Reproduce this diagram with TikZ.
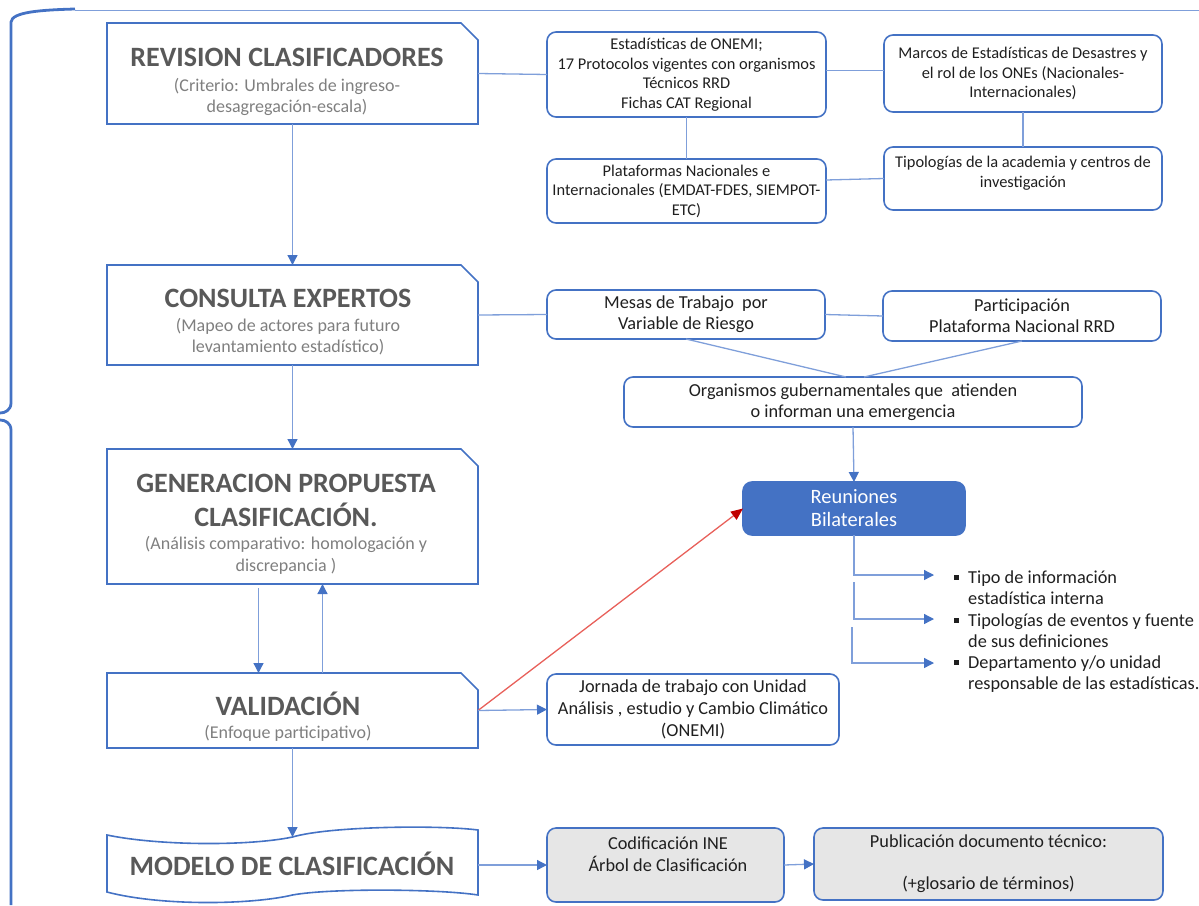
\documentclass[tikz,border=0pt]{standalone}
\usepackage{fontspec}
\setmainfont{Carlito}
\usetikzlibrary{arrows.meta,calc}
\definecolor{bl}{HTML}{4472C4}
\definecolor{lb}{HTML}{7F9FDA}
\definecolor{tg}{HTML}{595959}
\definecolor{sg}{HTML}{7F7F7F}
\definecolor{gf}{HTML}{E6E6E6}
\definecolor{rd}{HTML}{E8605A}
\definecolor{dr}{HTML}{C00000}
\newcommand\mytitlefont{\fontsize{28}{34}\selectfont\bfseries\color{tg}}
\newcommand\mysubfont{\fontsize{18}{21.5}\selectfont\color{sg}}
\newcommand\mysnip[1]{\draw[bl, line width=1.6pt] (#1.south west) -- (#1.north west) -- ([xshift=-17pt]#1.north east) -- ([yshift=-17pt]#1.north east) -- (#1.south east) -- cycle;}
\begin{document}
\begin{tikzpicture}[x=1pt,y=-1pt,
  stage/.style={minimum width=371pt, inner sep=0pt, outer sep=0pt},
  ttl/.style={align=center, inner sep=0pt, font=\mytitlefont},
  sub/.style={align=center, inner sep=0pt, font=\mysubfont},
  rbox/.style={draw=bl, line width=1.6pt, rounded corners=9pt, align=center, inner sep=0pt, outer sep=0pt, text=black!88, font=\fontsize{16.4}{19.5}\selectfont},
  rbig/.style={rbox, font=\fontsize{18.3}{21}\selectfont},
  conn/.style={draw=lb, line width=1.3pt},
  arr/.style={conn, -{Triangle[width=10pt,length=10pt,color=bl]}},
  redarr/.style={draw=rd, line width=1.3pt, -{Triangle[width=10pt,length=12pt,color=dr]}},
  bul/.style={anchor=west, align=left, inner sep=0pt, text=black!88, font=\fontsize{18.3}{21.5}\selectfont},
  brace/.style={draw=bl, line width=2.8pt}
]
\useasboundingbox (0,0) rectangle (1199,905);

% brace and top rule
\draw[brace] (75,9) .. controls (40,10) and (12,12) .. (11,22) -- (11,403) .. controls (11,410) and (5,413) .. (0,413);
\draw[brace] (0,420) .. controls (5,420) and (11,423) .. (11,430) -- (11,905);
\draw[draw=lb, line width=1pt] (75,10) -- (1199,10);

% left column stages
\node[stage, minimum height=101pt] (rev) at (292.5,73.5) {};
\mysnip{rev}
\node[ttl] at (287,57) {REVISION CLASIFICADORES};
\node[sub] at (287,97) {(Criterio: Umbrales de ingreso-\\desagregación-escala)};

\node[stage, minimum height=100pt] (con) at (292.5,315) {};
\mysnip{con}
\node[ttl] at (288,298) {CONSULTA EXPERTOS};
\node[sub] at (288,336.5) {(Mapeo de actores para futuro\\levantamiento estadístico)};

\node[stage, minimum height=135pt] (gen) at (292.5,516.5) {};
\mysnip{gen}
\node[ttl] at (286,500) {GENERACION PROPUESTA\\CLASIFICACIÓN.};
\node[sub] at (286,555.5) {(Análisis comparativo: homologación y\\discrepancia )};

\node[stage, minimum height=75pt] (val) at (292.5,710.5) {};
\mysnip{val}
\node[ttl] at (288,704) {VALIDACIÓN};
\node[sub] at (288,733) {(Enfoque participativo)};

\node[stage, minimum height=58pt] (mod) at (292.5,865) {};
\draw[bl, line width=1.6pt] (107,835) .. controls (160,846) and (250,846) .. (292.5,837) .. controls (330,826) and (440,825) .. (478,830) -- (478,895) .. controls (440,889) and (330,888) .. (292.5,895) .. controls (250,905) and (160,906) .. (107,892) -- cycle;
\node[ttl] at (292,864) {MODELO DE CLASIFICACIÓN};
\coordinate (modtop) at (292.5,837);

% right boxes, top group
\node[rbox, minimum width=279pt, minimum height=85pt] (onemi) at (686.5,74.5) {Estadísticas de ONEMI;\\17 Protocolos vigentes con organismos\\Técnicos RRD\\Fichas CAT Regional};
\node[rbox, minimum width=278pt, minimum height=77pt] (marcos) at (1023,73.5) {Marcos de Estadísticas de Desastres y\\el rol de los ONEs (Nacionales-\\Internacionales)};
\node[rbox, minimum width=279pt, minimum height=64pt] (plat) at (686.5,191) {Plataformas Nacionales e\\Internacionales (EMDAT-FDES, SIEMPOT-\\ETC)};
\node[rbox, minimum width=278pt, minimum height=63pt] (tipo) at (1023,178.5) {};
\node[align=center, inner sep=0pt, text=black!88, font=\fontsize{16.4}{19.5}\selectfont] at (1023,173) {Tipologías de la academia y centros de\\investigación};

% middle group
\node[rbig, minimum width=278pt, minimum height=49pt] (mesas) at (686,314.5) {Mesas de Trabajo \ por\\Variable de Riesgo};
\node[rbig, minimum width=278pt, minimum height=50pt] (part) at (1022,316) {Participación\\Plataforma Nacional RRD};
\node[rbig, minimum width=458pt, minimum height=50pt] (org) at (853,402) {Organismos gubernamentales que \ atienden\\o informan una emergencia};
\node[rbox, font=\fontsize{20.4}{23}\selectfont, fill=bl, text=white, minimum width=222pt, minimum height=53pt] (reun) at (854,508.5) {Reuniones\\Bilaterales};

\node[rbox, font=\fontsize{18.3}{22}\selectfont, minimum width=292pt, minimum height=71pt] (jorn) at (693,709.5) {Jornada de trabajo con Unidad\\Análisis , estudio y Cambio Climático\\(ONEMI)};

% bottom group
\node[rbox, fill=gf, minimum width=237pt, minimum height=74pt] (cod) at (665.5,865) {};
\node[align=center, inner sep=0pt, text=black!88, font=\fontsize{18.3}{22}\selectfont] at (668,854) {Codificación INE\\Árbol de Clasificación};
\node[rbox, fill=gf, font=\fontsize{18.3}{21}\selectfont, minimum width=349pt, minimum height=72pt] (pub) at (988.5,864) {Publicación documento técnico:\\[21pt](+glosario de términos)};

% bullets
\node[bul] (b1) at (954,587.5) {\rule[3.5pt]{4.5pt}{4.5pt}\hspace{9.5pt}Tipo de información\\\hspace*{14pt}estadística interna};
\node[bul] (b2) at (954,630.5) {\rule[3.5pt]{4.5pt}{4.5pt}\hspace{9.5pt}Tipologías de eventos y fuente\\\hspace*{14pt}de sus definiciones};
\node[bul] (b3) at (954,674) {\rule[3.5pt]{4.5pt}{4.5pt}\hspace{9.5pt}Departamento y/o unidad\\\hspace*{14pt}responsable de las estadísticas.};
\coordinate (t1) at (934,575);
\coordinate (s2) at (854,582);
\coordinate (t2) at (934,619);
\coordinate (s3) at (852,627);
\coordinate (t3) at (934,663);

% connectors left column
\draw[arr] (rev.south) -- (con.north);
\draw[arr] (con.south) -- (gen.north);
\draw[arr] ([xshift=-34pt,yshift=-4pt]gen.south) -- ([xshift=-34pt]val.north);
\draw[arr] ([xshift=30pt]val.north) -- ([xshift=30pt]gen.south);
\draw[arr] (val.south) -- (modtop);

% connectors top group
\draw[conn] (rev.east) -- (onemi.west);
\draw[conn] ([yshift=4pt]onemi.east) -- ([yshift=3pt]marcos.west);
\draw[conn] (onemi.south) -- (plat.north);
\draw[conn] (marcos.south) -- (tipo.north);
\draw[conn] ([yshift=11pt]plat.east) -- (tipo.west);

% middle
\draw[conn] (con.east) -- (mesas.west);
\draw[conn] (mesas.east) -- (part.west);
\draw[conn] (mesas.south) -- ([xshift=-7pt]org.north);
\draw[conn] (part.south) -- ([xshift=11pt]org.north);
\draw[arr] (org.south) -- (reun.north);
\draw[arr] (reun.south) |- (t1);
\draw[arr] (s2) |- (t2);
\draw[arr] (s3) |- (t3);
\draw[redarr] (val.east) -- (reun.west);
\draw[arr] (val.east) -- (jorn.west);

% bottom
\draw[arr] (mod.east) -- (cod.west);
\draw[arr] (cod.east) -- (pub.west);
\end{tikzpicture}
\end{document}
